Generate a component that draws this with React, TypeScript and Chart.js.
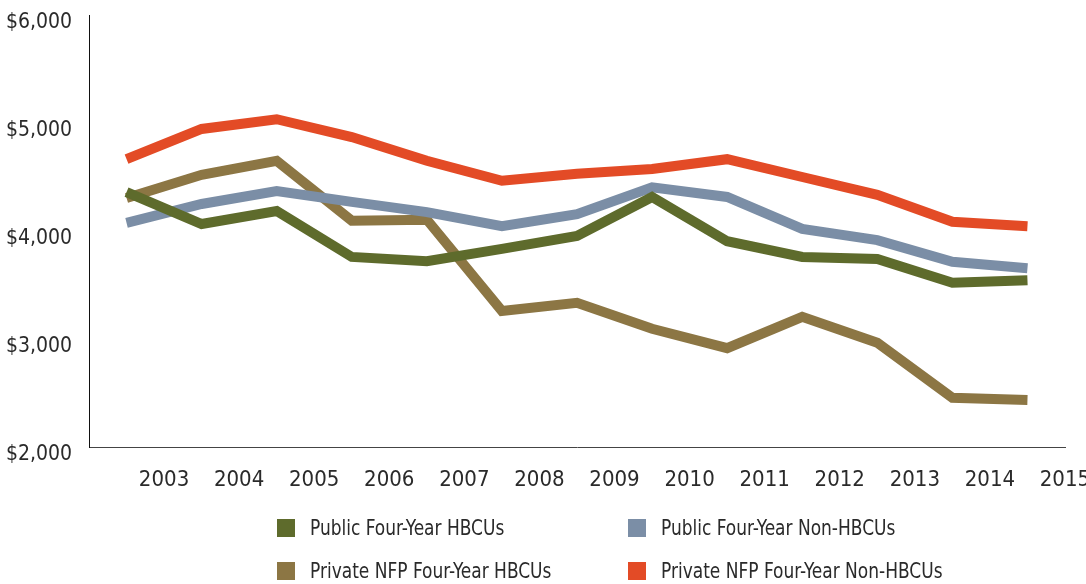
import React, { useEffect, useRef } from 'react';
import { Chart, registerables } from 'chart.js';

Chart.register(...registerables);

// Category labels (x axis)
const years = ['2003', '2004', '2005', '2006', '2007', '2008', '2009', '2010', '2011', '2012', '2013', '2014', '2015'];

// Series values (USD)
const publicHBCU = [4360, 4065, 4185, 3760, 3720, 3835, 3955, 4315, 3905, 3760, 3740, 3520, 3545];
const publicNonHBCU = [4075, 4250, 4370, 4270, 4175, 4045, 4155, 4405, 4315, 4020, 3915, 3715, 3655];
const privateNfpHBCU = [4305, 4520, 4650, 4095, 4105, 3260, 3335, 3095, 2915, 3205, 2965, 2455, 2435];
const privateNfpNonHBCU = [4665, 4945, 5035, 4870, 4650, 4465, 4530, 4575, 4665, 4500, 4335, 4085, 4045];

const seriesNames = [
  'Public Four-Year HBCUs',
  'Public Four-Year Non-HBCUs',
  'Private NFP Four-Year HBCUs',
  'Private NFP Four-Year Non-HBCUs',
];
const seriesColors = ['#5e6b2c', '#7b8ea6', '#8c7644', '#e34b26'];
const seriesData = [publicHBCU, publicNonHBCU, privateNfpHBCU, privateNfpNonHBCU];

// Y axis range / tick step
const yMin = 2000;
const yMax = 6000;
const yStep = 1000;

const FONT = "'DejaVu Sans Condensed', 'Liberation Sans Narrow', sans-serif";
const TEXT = '#2a2a2a';

export default function App() {
  const ref = useRef<HTMLCanvasElement | null>(null);

  useEffect(() => {
    if (!ref.current) return;
    const chart = new Chart(ref.current, {
      type: 'line',
      data: {
        labels: years,
        datasets: seriesData.map((d, i) => ({
          label: seriesNames[i],
          data: d,
          borderColor: seriesColors[i],
          backgroundColor: seriesColors[i],
          borderWidth: 10,
          pointRadius: 0,
          tension: 0,
          fill: false,
          borderJoinStyle: 'miter' as const,
          borderCapStyle: 'butt' as const,
        })),
      },
      options: {
        responsive: false,
        animation: false,
        layout: { padding: { left: 0, top: 15, right: 21, bottom: 87 } },
        plugins: {
          legend: { display: false },
          tooltip: { enabled: false },
        },
        scales: {
          x: {
            type: 'category',
            offset: true,
            grid: { display: false, drawTicks: false },
            border: { display: true, color: '#444', width: 1 },
            ticks: {
              labelOffset: 37.5,
              padding: 20,
              autoSkip: false,
              maxRotation: 0,
              color: TEXT,
              font: { family: FONT, size: 22 },
            },
            afterFit: (s: any) => {
              s.height = 50;
              s.paddingLeft = 0;
              s.paddingRight = 0;
            },
          },
          y: {
            min: yMin,
            max: yMax,
            grid: { display: false, drawTicks: false },
            border: { display: true, color: '#111', width: 1 },
            ticks: {
              stepSize: yStep,
              padding: 17,
              labelOffset: 8,
              color: TEXT,
              font: { family: FONT, size: 21 },
              callback: (v: any) => '$' + Number(v).toLocaleString('en-US'),
            },
            afterFit: (s: any) => {
              s.width = 89;
              s.paddingTop = 0;
              s.paddingBottom = 0;
            },
          },
        },
      },
    });
    return () => chart.destroy();
  }, []);

  return (
    <div style={{ position: 'absolute', left: 0, top: 0, width: 1086, height: 584, background: '#fff' }}>
      <canvas ref={ref} width={1086} height={584} style={{ display: 'block' }} />
      <div
        style={{
          position: 'absolute',
          left: 277,
          top: 519,
          display: 'grid',
          gridTemplateColumns: '351px auto',
          rowGap: 25,
          fontFamily: FONT,
          fontSize: 22,
          color: TEXT,
        }}
      >
        {seriesNames.map((name, i) => (
          <div key={name} style={{ display: 'flex', alignItems: 'center', height: 18, whiteSpace: 'nowrap' }}>
            <span style={{ display: 'inline-block', width: 18, height: 18, background: seriesColors[i], marginRight: 15, flex: '0 0 auto' }} />
            <span style={{ display: 'inline-block', lineHeight: '18px', transform: 'scaleX(0.86)', transformOrigin: 'left center' }}>{name}</span>
          </div>
        ))}
      </div>
    </div>
  );
}
